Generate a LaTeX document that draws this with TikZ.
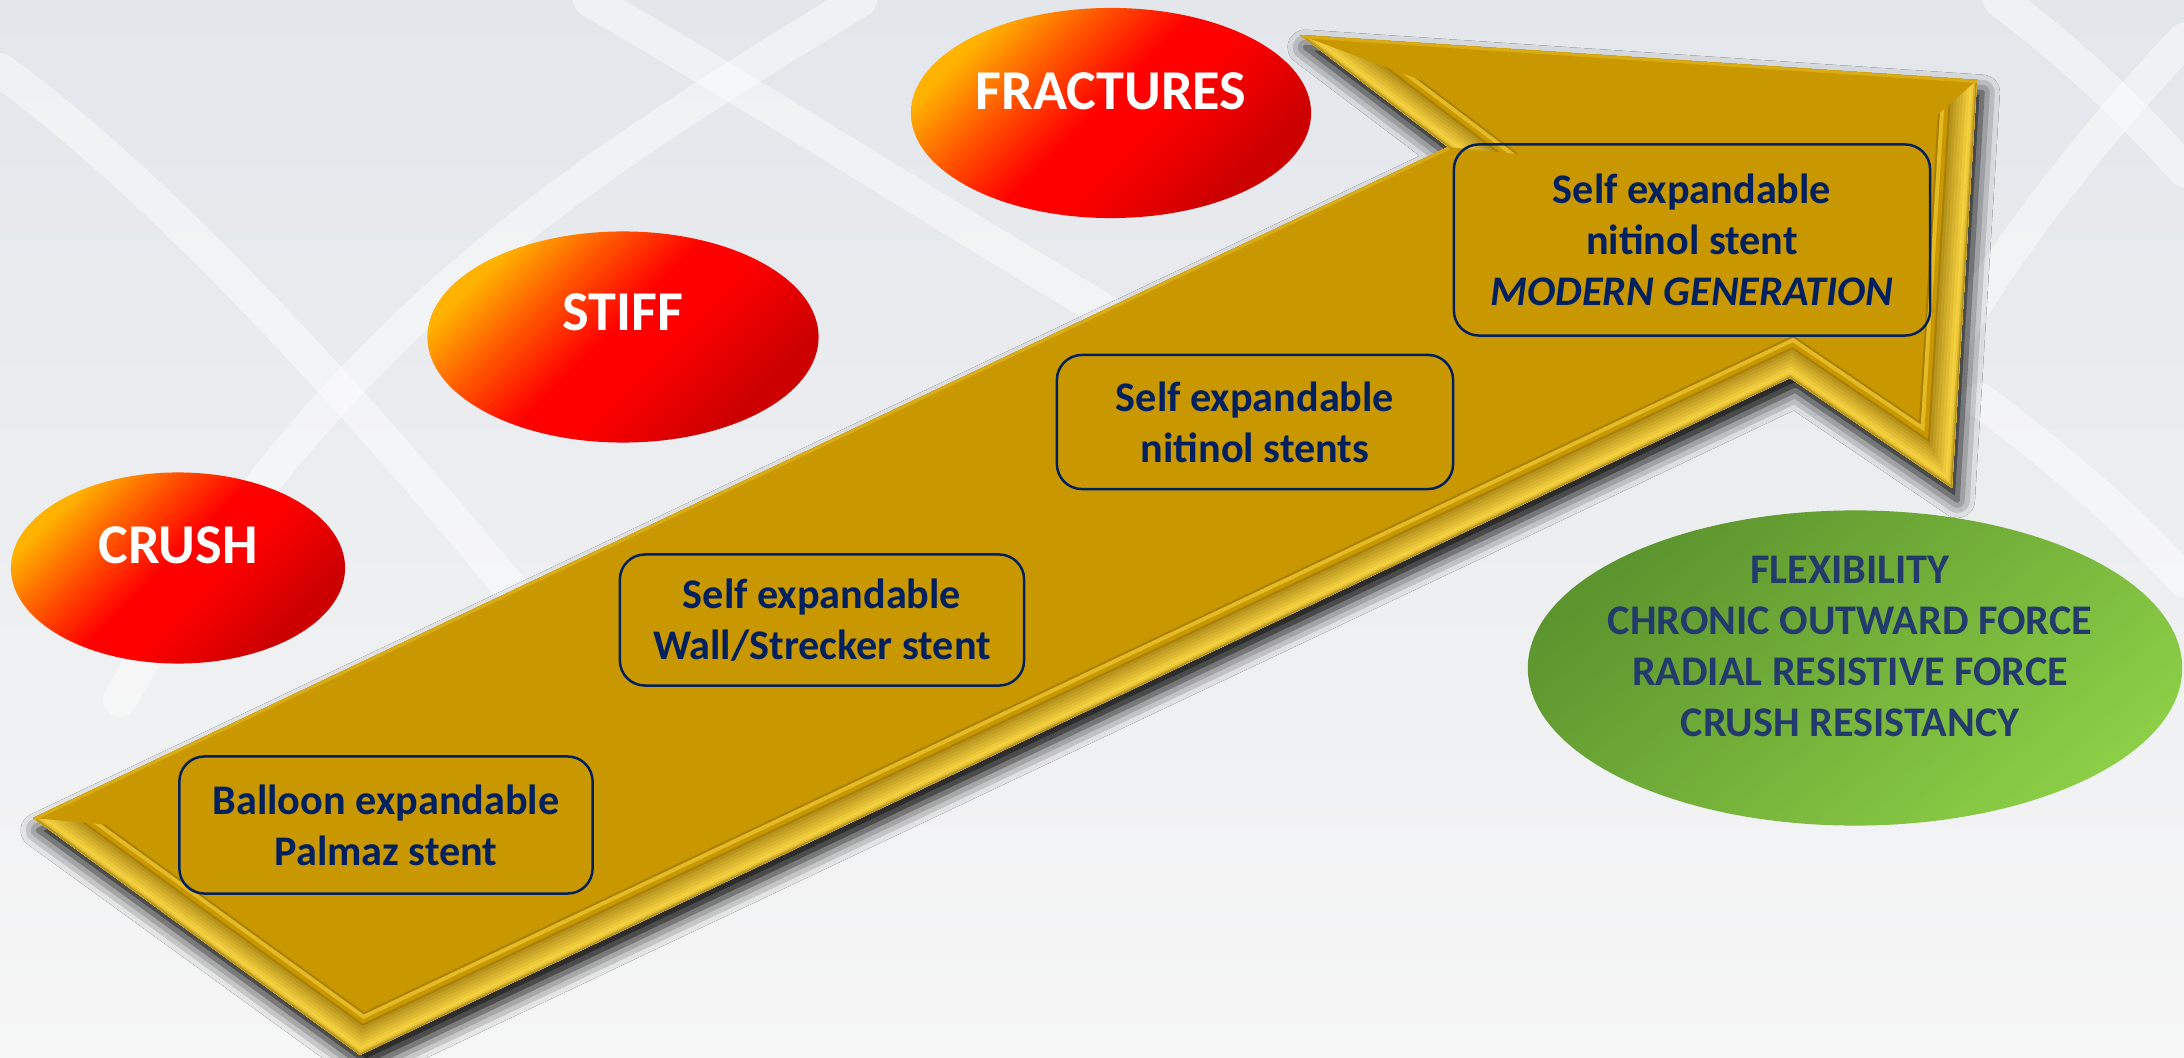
\documentclass[tikz,border=0pt]{standalone}
\usepackage{fontspec}
\setmainfont{Carlito}
\usetikzlibrary{shapes.geometric,shadows.blur}

\definecolor{bgtop}{RGB}{227,230,235}
\definecolor{bgbottom}{RGB}{246,246,246}
\definecolor{gold}{RGB}{201,152,0}
\definecolor{goldlight}{RGB}{246,210,64}
\definecolor{goldshade}{RGB}{168,126,0}
\definecolor{golddark}{RGB}{130,96,0}
\definecolor{navy}{RGB}{0,32,96}
\definecolor{slateblue}{RGB}{34,58,108}
\definecolor{ballyellow}{RGB}{255,178,0}
\definecolor{ballorange}{RGB}{255,84,0}
\definecolor{ballred}{RGB}{255,0,0}
\definecolor{balldark}{RGB}{205,0,0}
\definecolor{leafdark}{RGB}{92,148,46}
\definecolor{leaflight}{RGB}{140,206,70}

\pgfdeclareverticalshading{redball}{100bp}{color(0bp)=(balldark); color(28bp)=(balldark); color(44bp)=(ballred); color(52bp)=(ballred); color(63bp)=(ballorange); color(74bp)=(ballyellow); color(100bp)=(ballyellow)}

\begin{document}
\begin{tikzpicture}[x=0.01cm, y=-0.01cm]

\tikzstyle{band}=[white, line width=0.34cm, opacity=0.45, line cap=round]
\tikzstyle{ball}=[ellipse, inner sep=0pt, shading=redball, shading angle=45]
\tikzstyle{balltext}=[text=white, font=\fontsize{16}{19}\selectfont\bfseries]
\tikzstyle{stentbox}=[draw=navy, line width=0.7pt, rounded corners=0.25cm, align=center, text=navy, font=\fontsize{12}{14.5}\selectfont\bfseries]
\tikzstyle{propball}=[ellipse, inner sep=0pt, top color=leafdark, bottom color=leaflight, shading angle=40]
\tikzstyle{proptext}=[align=center, text=slateblue, font=\fontsize{12}{14.5}\selectfont\bfseries]

% --- background with soft lattice ---
\useasboundingbox (0,0) rectangle (2184,1058);
\shade[top color=bgtop, bottom color=bgbottom] (0,0) rectangle (2184,1058);
\draw[band] (0,70) .. controls (180,200) and (420,470) .. (600,700);
\draw[band] (860,0) .. controls (600,160) and (330,320) .. (120,700);
\draw[band] (590,0) .. controls (780,110) and (950,220) .. (1120,320);
\draw[band] (2000,0) .. controls (2080,60) and (2140,120) .. (2184,170);
\draw[band] (2184,40) .. controls (2080,150) and (2000,260) .. (1960,330);
\draw[band] (1980,400) .. controls (2060,460) and (2130,520) .. (2184,580);

% --- the big arrow ---
\coordinate (tip) at (33,818);
\coordinate (notchup) at (1448,147);
\coordinate (barbup) at (1300,35);
\coordinate (head) at (1977,80);
\coordinate (barblow) at (1952,488);
\coordinate (notchlow) at (1790,378);
\coordinate (tail) at (360,1055);
\def\arrowpath{(tip) -- (notchup) -- (barbup) -- (head) -- (barblow) -- (notchlow) -- (tail) -- cycle}

\fill[gold, blur shadow={shadow xshift=1.5pt, shadow yshift=-3.5pt, shadow blur radius=5pt, shadow opacity=100}] \arrowpath;

% bevel: nested strokes, clipped to the inside
\begin{scope}
\clip \arrowpath;
\foreach \d/\c in {37/goldshade, 35/goldlight!60!gold, 31/gold, 27/goldshade}
  \draw[line width=\d*0.02cm, \c] \arrowpath;
\foreach \d/\p in {25/45, 22/55, 19/64, 16/73, 13/82, 10/91, 7/100, 5/92, 3/72, 1.5/45}
  \draw[line width=\d*0.02cm, goldlight!\p!golddark] \arrowpath;
% the two upward edges stay flat
\fill[gold] (tip) -- (notchup) -- (1525,155) -- (111,825) -- cycle;
\fill[gold] (barbup) -- (head) -- (1935,117) -- (1431,84) -- cycle;
\draw[line width=0.06cm, goldlight!35!gold] (tip) -- (notchup) (barbup) -- (head);
\end{scope}

% --- stent generations ---
\node[stentbox, minimum width=4.13cm, minimum height=1.37cm] (palmaz) at (386,825) {Balloon expandable\\Palmaz stent};
\node[stentbox, minimum width=4.04cm, minimum height=1.31cm] (wallstent) at (822,620) {Self expandable\\Wall/Strecker stent};
\node[stentbox, minimum width=3.96cm, minimum height=1.34cm] (nitinol) at (1255,422) {Self expandable\\nitinol stents};
\node[stentbox, minimum width=4.76cm, minimum height=1.91cm] (modern) at (1692,240) {Self expandable\\nitinol stent\\\textit{MODERN GENERATION}};

% --- problems ---
\node[ball, minimum width=3.34cm, minimum height=1.91cm] (crush) at (178,568) {};
\node[balltext] (crushlbl) at (178,545) {CRUSH};
\node[ball, minimum width=3.91cm, minimum height=2.11cm] (stiff) at (623,337) {};
\node[balltext] (stifflbl) at (623,312) {STIFF};
\node[ball, minimum width=4.0cm, minimum height=2.1cm] (fractures) at (1111,113) {};
\node[balltext] (fractureslbl) at (1111,91) {FRACTURES};

% --- properties ---
\node[propball, minimum width=6.54cm, minimum height=3.15cm] (props) at (1855,668) {};
\node[proptext] (propslbl) at (1850,646) {FLEXIBILITY\\CHRONIC OUTWARD FORCE\\RADIAL RESISTIVE FORCE\\CRUSH RESISTANCY};

\end{tikzpicture}
\end{document}
